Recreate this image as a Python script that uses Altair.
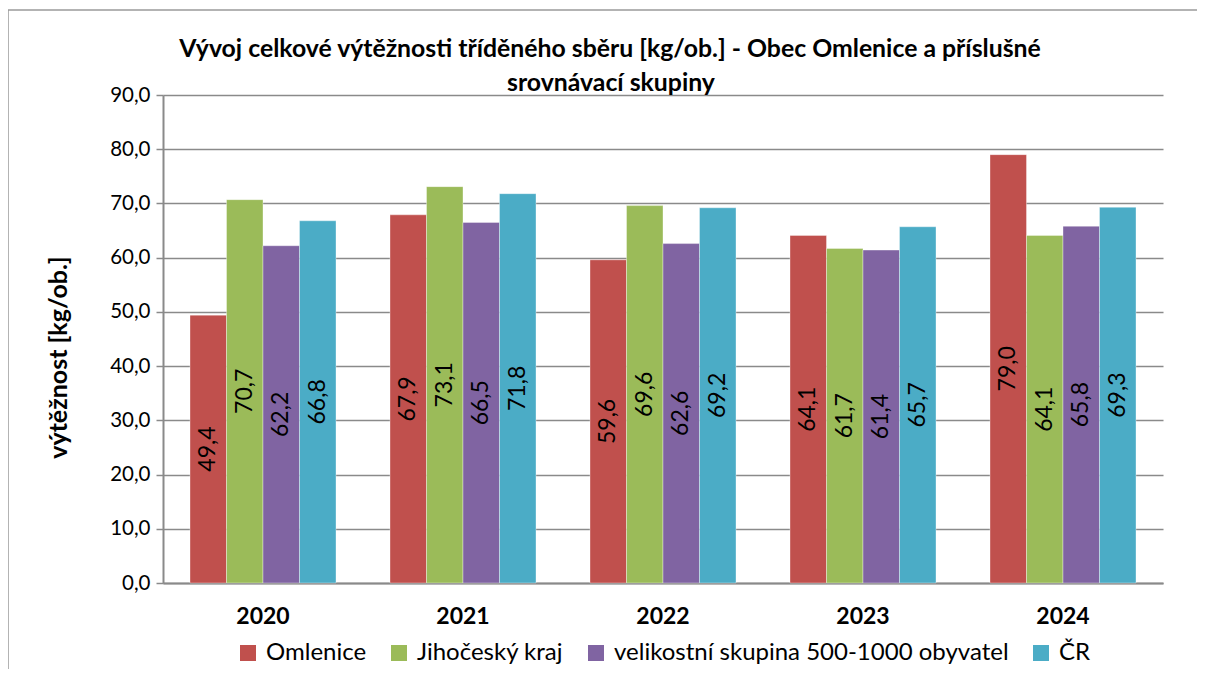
import altair as alt
import pandas as pd

years = ["2020", "2021", "2022", "2023", "2024"]
series = ["Omlenice", "Jihočeský kraj", "velikostní skupina 500-1000 obyvatel", "ČR"]
colors = ["#C0504D", "#9BBB59", "#8064A2", "#4BACC6"]
omlenice = [49.4, 67.9, 59.6, 64.1, 79.0]
jihocesky = [70.7, 73.1, 69.6, 61.7, 64.1]
velikostni = [62.2, 66.5, 62.6, 61.4, 65.8]
cr = [66.8, 71.8, 69.2, 65.7, 69.3]
title_lines = ["Vývoj celkové výtěžnosti tříděného sběru [kg/ob.] - Obec Omlenice a příslušné",
               "srovnávací skupiny"]

rows = []
for s_i, vals in enumerate([omlenice, jihocesky, velikostni, cr]):
    for y, v in zip(years, vals):
        rows.append({"rok": y, "skupina": series[s_i], "order": s_i, "v": v})
df = pd.DataFrame(rows)

FONT = "Lato"

x_enc = alt.X("rok:N", sort=years,
              scale=alt.Scale(paddingInner=0.27, paddingOuter=0.135),
              axis=alt.Axis(title=None, labelFontSize=23, labelFontWeight="bold",
                            labelColor="black", labelPadding=22, ticks=False,
                            domainColor="#8a8a8a", domainWidth=2, labelAngle=0))
xoff = alt.XOffset("skupina:N", sort=series)

base = alt.Chart(df)

bars = base.mark_bar(stroke="white", strokeWidth=0.6, strokeOpacity=0.6).encode(
    x=x_enc,
    xOffset=xoff,
    y=alt.Y("v:Q", scale=alt.Scale(domain=[0, 90]),
            axis=alt.Axis(title="výtěžnost [kg/ob.]", values=list(range(0, 91, 10)),
                          labelExpr="replace(format(datum.value,'.1f'),'.',',')",
                          labelFontSize=20.5, labelColor="black", labelPadding=6,
                          tickSize=7, tickColor="#8a8a8a", tickWidth=1.5,
                          domainColor="#8a8a8a", domainWidth=2,
                          gridColor="#8a8a8a", gridWidth=1.6,
                          titleFontSize=25, titleFontWeight="bold", titleColor="black",
                          titlePadding=38, titleY=262)),
    color=alt.Color("skupina:N", sort=series,
                    scale=alt.Scale(domain=series, range=colors),
                    legend=alt.Legend(title=None, orient="none", direction="horizontal",
                                      legendX=73, legendY=546,
                                      symbolType="square", symbolSize=256,
                                      symbolStrokeWidth=0, labelFontSize=24,
                                      labelColor="black", columnPadding=20,
                                      labelLimit=1000, symbolOffset=0,
                                      labelOffset=6)),
)

labels = base.transform_calculate(
    mid="datum.v / 2",
    lab="replace(format(datum.v,'.1f'),'.',',')",
).mark_text(angle=270, align="center", baseline="middle", fontSize=23,
            color="black").encode(
    x=alt.X("rok:N", sort=years),
    xOffset=xoff,
    y=alt.Y("mid:Q"),
    text="lab:N",
)

one = alt.Data(values=[{}])
title1 = alt.Chart(one).mark_text(fontSize=24.8, fontWeight="bold", color="black",
                                  align="center", baseline="alphabetic").encode(
    x=alt.value(447), y=alt.value(-38), text=alt.value(title_lines[0]))
title2 = alt.Chart(one).mark_text(fontSize=24.8, fontWeight="bold", color="black",
                                  align="center", baseline="alphabetic").encode(
    x=alt.value(448), y=alt.value(-4), text=alt.value(title_lines[1]))

border_top = alt.Chart(one).mark_rule(color="#9a9a9a", strokeWidth=1.5).encode(
    x=alt.value(-155), x2=alt.value(1100), y=alt.value(-85))
border_left = alt.Chart(one).mark_rule(color="#9a9a9a", strokeWidth=1.5).encode(
    x=alt.value(-155), y=alt.value(-85), y2=alt.value(700))

chart = alt.layer(bars, labels, title1, title2, border_top, border_left).properties(
    width=1000, height=488,
    autosize=alt.AutoSizeParams(type="none"),
    padding={"left": 155, "top": 87, "right": 34, "bottom": 86},
).configure(font=FONT).configure_view(stroke=None)

chart.save("out.html", embed_options={"renderer": "svg", "actions": False})
